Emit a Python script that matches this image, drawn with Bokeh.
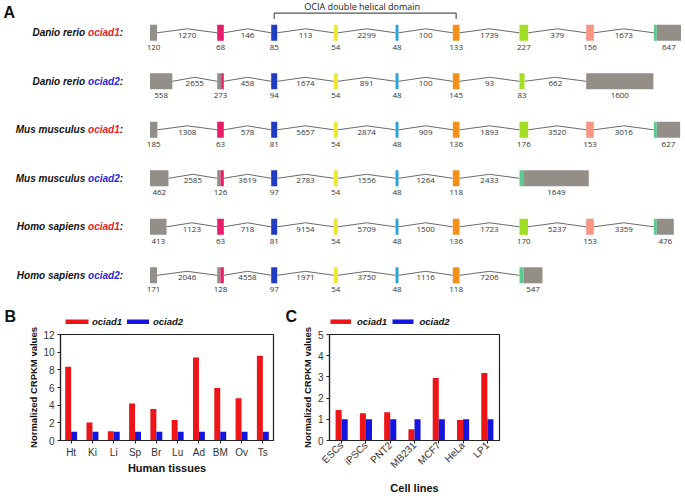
import math
from bokeh.plotting import figure
from bokeh.models import (Range1d, FactorRange, ColumnDataSource, Label,
                          SingleIntervalTicker)
from bokeh.layouts import column, row
from bokeh.transform import dodge
from bokeh.core.properties import value
from bokeh.embed import file_html
from bokeh.resources import INLINE

# ---------------- data: panel A (gene structures) ----------------
species = ["Danio rerio", "Danio rerio", "Mus musculus", "Mus musculus",
           "Homo sapiens", "Homo sapiens"]
genes = ["ociad1", "ociad2", "ociad1", "ociad2", "ociad1", "ociad2"]
exon_sizes = [
    [120, 68, 85, 54, 48, 133, 227, 156, 647],
    [558, 273, 94, 54, 48, 145, 83, 1600],
    [185, 63, 81, 54, 48, 136, 176, 153, 627],
    [462, 126, 97, 54, 48, 118, 1649],
    [413, 63, 81, 54, 48, 136, 170, 153, 476],
    [171, 128, 97, 54, 48, 118, 547],
]
intron_sizes = [
    [1270, 146, 113, 2299, 100, 1739, 379, 1673],
    [2655, 458, 1674, 891, 100, 93, 662],
    [1308, 578, 5657, 2874, 909, 1893, 3520, 3016],
    [2585, 3619, 2783, 1556, 1264, 2433],
    [1123, 718, 9154, 5709, 1500, 1723, 5237, 3359],
    [2046, 4558, 1971, 3750, 1116, 7206],
]
domain_label = "OCIA double helical domain"
domain_exons = (2, 5)

# ---------------- data: panel B ----------------
tissues = ["Ht", "Ki", "Li", "Sp", "Br", "Lu", "Ad", "BM", "Ov", "Ts"]
tissue_ociad1 = [8.35, 2.05, 1.06, 4.2, 3.57, 2.32, 9.4, 5.95, 4.78, 9.6]
tissue_ociad2 = [1.0, 1.0, 1.0, 1.0, 1.0, 1.0, 1.0, 1.0, 1.0, 1.0]

# ---------------- data: panel C ----------------
cells = ["ESCs", "iPSCs", "PNT2", "MB231", "MCF7", "HeLa", "LP1"]
cell_ociad1 = [1.44, 1.29, 1.33, 0.53, 2.95, 0.97, 3.18]
cell_ociad2 = [1.0, 1.0, 1.0, 1.0, 1.0, 1.0, 1.0]

series_names = ["ociad1", "ociad2"]
panel_letters = ["A", "B", "C"]

# ---------------- styles / layout ----------------
RED = "#ee1518"
BLUE = "#1515e0"
GENE_COLOR = {"ociad1": "#e8202a", "ociad2": "#2a2ad8"}
ROW_Y0, ROW_DY = 32.3, 48.5
EXON_HALF = 8.0
COL_LEFT = [149.5, 216.7, 270.7, 333.3, 395.0, 452.3, 519.0, 585.7, 653.3]
MID_W = [7.0, 6.6, 6.0, 4.0, 3.0, 6.7, 8.7, 7.6]
COL_COLOR = ["#938e87", "#ea1b6b", "#1f3dc2", "#eee733", "#2ea4d8",
             "#f39019", "#a2df24", "#f69582"]
UTR_COLOR = "#938e87"
STOP_COLOR = "#5ccb8d"
EXON2_UTR_FRAC = [0, 0.6, 0, 0.5, 0, 0.5]
LAST_SLIVER = [3.0, 0, 3.0, 4.5, 3.0, 4.0]
LETTER_POS = [(3, 3), (4, 307), (285, 307)]
# legend geometry (px): swatch spans and label x for panels B and C
LEG_Y = 321.2
LEG_SWATCH = [[(65, 88), (126.5, 148.5)], [(330, 350.5), (392, 413)]]
LEG_TEXT_X = [[91.5, 152.5], [356.5, 419]]
NUM_FONT = value("Open Sans")
SANS = value("Liberation Sans")
SANS_S = "Liberation Sans"

W_TOTAL, H_TOTAL, H_A = 685, 496, 326
H_BC = H_TOTAL - H_A
W_B = 288

# ---------------- panel A ----------------
pA = figure(width=W_TOTAL, height=H_A, x_range=Range1d(0, W_TOTAL),
            y_range=Range1d(H_A, 0),
            x_axis_type=None, y_axis_type=None, output_backend="svg",
            toolbar_location=None, min_border=0, outline_line_color=None)

quads = dict(left=[], right=[], top=[], bottom=[], color=[])
exon_lab = dict(x=[], y=[], t=[])
intr_lab = dict(x=[], y=[], t=[])
lxs, lys = [], []
lab_src = dict(x=[], y=[], sp=[], g=[], gc=[])
bracket = None


def add_quad(l, r, yc, c):
    quads["left"].append(l)
    quads["right"].append(r)
    quads["top"].append(yc - EXON_HALF)
    quads["bottom"].append(yc + EXON_HALF)
    quads["color"].append(c)


for r in range(len(exon_sizes)):
    yc = ROW_Y0 + ROW_DY * r
    sizes = exon_sizes[r]
    n = len(sizes)
    spans = []
    for i, s in enumerate(sizes):
        left = COL_LEFT[i]
        if i == 0:
            w = max(7.0, s * 0.04)
            add_quad(left, left + w, yc, UTR_COLOR)
            lx = left + w / 2
        elif i == n - 1:
            w = max(7.0, s * 0.042)
            sl = LAST_SLIVER[r]
            if sl:
                add_quad(left, left + sl, yc, STOP_COLOR)
            add_quad(left + sl, left + w, yc, UTR_COLOR)
            lx = left + (sl + w) / 2
        else:
            w = min(8.7, max(5.0, s * 0.05)) if i == 6 else MID_W[i]
            if i == 1 and EXON2_UTR_FRAC[r] > 0:
                sp = left + w * EXON2_UTR_FRAC[r]
                add_quad(left, sp, yc, UTR_COLOR)
                add_quad(sp, left + w, yc, COL_COLOR[1])
            else:
                add_quad(left, left + w, yc, COL_COLOR[i])
            lx = left + w / 2
        spans.append((left, left + w))
        exon_lab["x"].append(lx)
        exon_lab["y"].append(yc + 14.2)
        exon_lab["t"].append(str(s))
    for j, s in enumerate(intron_sizes[r]):
        x0, x1 = spans[j][1], spans[j + 1][0]
        xm = (x0 + x1) / 2
        lxs.append([x0, xm, x1])
        lys.append([yc, yc - 4, yc])
        intr_lab["x"].append(xm)
        intr_lab["y"].append(yc + 2.6)
        intr_lab["t"].append(str(s))
    lab_src["x"].append(122.5)
    lab_src["y"].append(yc)
    lab_src["sp"].append(species[r])
    lab_src["g"].append(genes[r])
    lab_src["gc"].append(GENE_COLOR[genes[r]])
    if r == 0:
        a, b = domain_exons
        bx0 = (spans[a][0] + spans[a][1]) / 2
        bx1 = (spans[b][0] + spans[b][1]) / 2
        bracket = (bx0, bx1)

pA.multi_line(xs=lxs, ys=lys, line_color="#6a6a6a", line_width=1)
pA.quad(source=ColumnDataSource(quads), left="left", right="right", top="top",
        bottom="bottom", fill_color="color", line_color=None)
pA.text(source=ColumnDataSource(exon_lab), x="x", y="y", text="t", text_font=NUM_FONT,
        text_font_size="8px", text_color="#333333", text_align="center",
        text_baseline="middle")
pA.text(source=ColumnDataSource(intr_lab), x="x", y="y", text="t", text_font=NUM_FONT,
        text_font_size="8px", text_color="#333333", text_align="center",
        text_baseline="middle")

ls = ColumnDataSource(lab_src)
common = dict(source=ls, x="x", y="y", text_font=SANS, text_font_size="10px",
              text_font_style="bold italic", text_align="right", text_baseline="middle")
pA.text(text=value(":"), text_color="#111111", **common)
pA.text(text="g", text_color="gc", x_offset=-3.3, **common)
pA.text(text="sp", text_color="#111111", x_offset=-37.8, **common)

bx0, bx1 = bracket
pA.line(x=[bx0, bx0, bx1, bx1], y=[18.5, 12.7, 12.7, 18.5], line_color="#555555",
        line_width=1.2)
pA.text(x=[(bx0 + bx1) / 2 - 3], y=[6.3], text=[domain_label], text_font=NUM_FONT,
        text_font_size="9px", text_color="#222222", text_align="center",
        text_baseline="middle")
for letter, (lx, ly) in zip(panel_letters, LETTER_POS):
    pA.add_layout(Label(x=lx, y=ly, text=letter, text_font=SANS_S,
                        text_font_size="16px", text_font_style="bold",
                        text_color="#111111", text_baseline="top", text_align="left"))

# legends for panels B and C (drawn in the top figure, just above their frames)
for sw, tx in zip(LEG_SWATCH, LEG_TEXT_X):
    pA.segment(x0=[sw[0][0], sw[1][0]], x1=[sw[0][1], sw[1][1]], y0=[LEG_Y, LEG_Y],
               y1=[LEG_Y, LEG_Y], line_color=[RED, BLUE], line_width=4.5)
    pA.text(x=tx, y=[LEG_Y, LEG_Y], text=series_names, text_font=SANS,
            text_font_size="9.5px", text_font_style="bold italic",
            text_color="#111111", text_align="left", text_baseline="middle")


# ---------------- panels B & C ----------------
def bar_panel(cats, v1, v2, ymax, yint, width, ml, mr, mt, mb, barw, xlabel,
              rotate, xlab_standoff, ylab_standoff, tick_standoff):
    p = figure(x_range=FactorRange(factors=cats), y_range=Range1d(0, ymax),
               width=width, height=H_BC, output_backend="svg", toolbar_location=None,
               min_border_left=ml, min_border_right=mr, min_border_top=mt,
               min_border_bottom=mb, outline_line_color="#222222",
               outline_line_width=1.2)
    src = ColumnDataSource(dict(c=cats, a=v1, b=v2))
    p.vbar(x=dodge("c", -barw / 2, range=p.x_range), top="a", width=barw,
           source=src, fill_color=RED, line_color=None)
    p.vbar(x=dodge("c", barw / 2, range=p.x_range), top="b", width=barw,
           source=src, fill_color=BLUE, line_color=None)
    p.xgrid.visible = False
    p.ygrid.visible = False
    p.yaxis.ticker = SingleIntervalTicker(interval=yint)
    for ax in (p.xaxis, p.yaxis):
        ax.axis_line_color = "#222222"
        ax.axis_line_width = 1.2
        ax.major_tick_line_color = "#222222"
        ax.major_tick_out = 3
        ax.major_tick_in = 0
        ax.minor_tick_line_color = None
        ax.major_label_text_font = SANS_S
        ax.major_label_text_font_size = "10px"
        ax.major_label_text_color = "#333333"
        ax.axis_label_text_font = SANS_S
        ax.axis_label_text_font_style = "bold"
        ax.axis_label_text_color = "#111111"
    p.yaxis.major_label_standoff = 2
    p.xaxis.major_label_standoff = tick_standoff
    p.yaxis.axis_label = "Normalized CRPKM values"
    p.yaxis.axis_label_text_font_size = "9.5px"
    p.yaxis.axis_label_standoff = ylab_standoff
    p.xaxis.axis_label = xlabel
    p.xaxis.axis_label_text_font_size = "11px"
    p.xaxis.axis_label_standoff = xlab_standoff
    if rotate:
        p.xaxis.major_label_orientation = math.pi / 4
    return p


pB = bar_panel(tissues, tissue_ociad1, tissue_ociad2, 12, 2, W_B, 60, 15, 7, 54,
               0.28, "Human tissues", False, 1, 1, 3)
pC = bar_panel(cells, cell_ociad1, cell_ociad2, 5, 1, W_TOTAL - W_B, 41, 186, 8, 52,
               0.25, "Cell lines", True, 5, 2, 0)

layout = column(pA, row(pB, pC))
open("out.html", "w").write(file_html(layout, INLINE))
